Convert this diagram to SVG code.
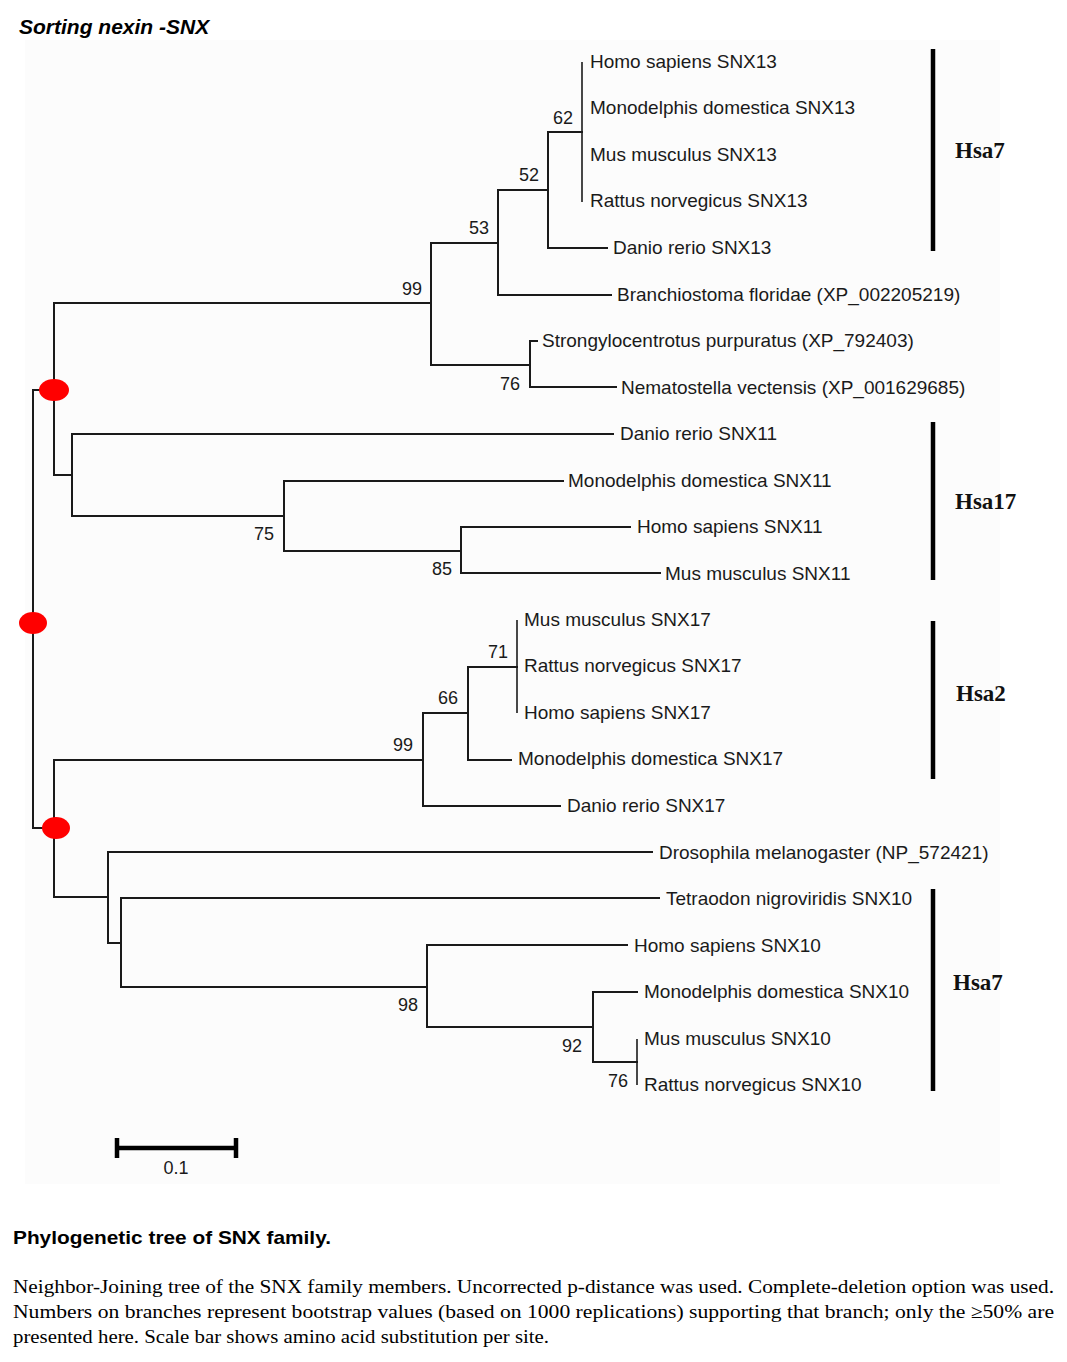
<svg xmlns="http://www.w3.org/2000/svg" width="1067" height="1362" viewBox="0 0 1067 1362">
<style>
.br{fill:none;stroke:#1a1a1a;stroke-width:2;stroke-linecap:square}
.thin{fill:none;stroke:#1a1a1a;stroke-width:1.6}
.lf{font-family:"Liberation Sans",Arial,sans-serif;font-size:19px;fill:#1a1a1a}
.bs{font-family:"Liberation Sans",Arial,sans-serif;font-size:18px;fill:#1a1a1a}
.cl{font-family:"Liberation Serif","Times New Roman",serif;font-size:23px;font-weight:bold;fill:#111}
.bar{stroke:#000;stroke-width:4.5}
.dot{fill:#ff0000}
.cap{font-family:"Liberation Serif","Times New Roman",serif;font-size:19px;fill:#000}
</style>
<rect x="0" y="0" width="1067" height="1362" fill="#ffffff"/>
<rect x="25" y="40" width="975" height="1144" fill="#fcfcfc"/>
<text x="19" y="34" font-family="'Liberation Sans',Arial,sans-serif" font-size="21" font-weight="bold" font-style="italic" fill="#000">Sorting nexin -SNX</text>

<g id="connectors">
<path class="thin" d="M582,62 V202"/>
<path class="br" d="M548,132 H582"/>
<path class="br" d="M548,132 V248 H607"/>
<path class="br" d="M498,190 H548"/>
<path class="br" d="M498,190 V295 H611"/>
<path class="br" d="M431,243 H498"/>
<path class="br" d="M431,243 V365 H530"/>
<path class="br" d="M537,341 H530 V387 H616"/>
<path class="br" d="M54,303 H431"/>
<path class="br" d="M54,303 V475 H72"/>
<path class="br" d="M613,434 H72 V516 H284"/>
<path class="br" d="M563,481 H284 V551 H461"/>
<path class="br" d="M630,527 H461 V573 H660"/>
<path class="br" d="M54,390 H33 V828 H54"/>
<path class="br" d="M423,760 H54 V897 H108"/>
<path class="br" d="M468,713 H423 V806 H560"/>
<path class="br" d="M517,667 H468 V760 H511"/>
<path class="thin" d="M517,620 V713"/>
<path class="br" d="M652,852 H108 V943 H121"/>
<path class="br" d="M659,898 H121 V987 H427"/>
<path class="br" d="M627,945 H427 V1027 H593"/>
<path class="br" d="M637,992 H593 V1062 H637"/>
<path class="thin" d="M637,1039 V1085"/>
</g>

<g id="root-markers">
<ellipse id="node-a" class="dot" cx="54" cy="390" rx="15" ry="11"/>
<ellipse id="node-root" class="dot" cx="33" cy="623" rx="14" ry="11"/>
<ellipse id="node-b" class="dot" cx="56" cy="828" rx="14" ry="11"/>
</g>

<g id="bootstrap">
<text class="bs" x="553" y="124">62</text>
<text class="bs" x="519" y="181">52</text>
<text class="bs" x="469" y="234">53</text>
<text class="bs" x="402" y="295">99</text>
<text class="bs" x="500" y="390">76</text>
<text class="bs" x="254" y="540">75</text>
<text class="bs" x="432" y="575">85</text>
<text class="bs" x="488" y="658">71</text>
<text class="bs" x="438" y="704">66</text>
<text class="bs" x="393" y="751">99</text>
<text class="bs" x="398" y="1011">98</text>
<text class="bs" x="562" y="1052">92</text>
<text class="bs" x="608" y="1087">76</text>
</g>

<g id="leaf-hs-snx13"><text class="lf" x="590" y="68">Homo sapiens SNX13</text></g>
<g id="leaf-md-snx13"><text class="lf" x="590" y="114">Monodelphis domestica SNX13</text></g>
<g id="leaf-mm-snx13"><text class="lf" x="590" y="161">Mus musculus SNX13</text></g>
<g id="leaf-rn-snx13"><text class="lf" x="590" y="207">Rattus norvegicus SNX13</text></g>
<g id="leaf-dr-snx13"><text class="lf" x="613" y="254">Danio rerio SNX13</text></g>
<g id="leaf-bf"><text class="lf" x="617" y="301">Branchiostoma floridae (XP_002205219)</text></g>
<g id="leaf-sp"><text class="lf" x="542" y="347">Strongylocentrotus purpuratus (XP_792403)</text></g>
<g id="leaf-nv"><text class="lf" x="621" y="394">Nematostella vectensis (XP_001629685)</text></g>
<g id="leaf-dr-snx11"><text class="lf" x="620" y="440">Danio rerio SNX11</text></g>
<g id="leaf-md-snx11"><text class="lf" x="568" y="487">Monodelphis domestica SNX11</text></g>
<g id="leaf-hs-snx11"><text class="lf" x="637" y="533">Homo sapiens SNX11</text></g>
<g id="leaf-mm-snx11"><text class="lf" x="665" y="580">Mus musculus SNX11</text></g>
<g id="leaf-mm-snx17"><text class="lf" x="524" y="626">Mus musculus SNX17</text></g>
<g id="leaf-rn-snx17"><text class="lf" x="524" y="672">Rattus norvegicus SNX17</text></g>
<g id="leaf-hs-snx17"><text class="lf" x="524" y="719">Homo sapiens SNX17</text></g>
<g id="leaf-md-snx17"><text class="lf" x="518" y="765">Monodelphis domestica SNX17</text></g>
<g id="leaf-dr-snx17"><text class="lf" x="567" y="812">Danio rerio SNX17</text></g>
<g id="leaf-dm"><text class="lf" x="659" y="859">Drosophila melanogaster (NP_572421)</text></g>
<g id="leaf-tn-snx10"><text class="lf" x="666" y="905">Tetraodon nigroviridis SNX10</text></g>
<g id="leaf-hs-snx10"><text class="lf" x="634" y="952">Homo sapiens SNX10</text></g>
<g id="leaf-md-snx10"><text class="lf" x="644" y="998">Monodelphis domestica SNX10</text></g>
<g id="leaf-mm-snx10"><text class="lf" x="644" y="1045">Mus musculus SNX10</text></g>
<g id="leaf-rn-snx10"><text class="lf" x="644" y="1091">Rattus norvegicus SNX10</text></g>

<g id="clade-hsa7-top"><line class="bar" x1="933" y1="49" x2="933" y2="251"/><text class="cl" x="955" y="158">Hsa7</text></g>
<g id="clade-hsa17"><line class="bar" x1="933" y1="422" x2="933" y2="580"/><text class="cl" x="955" y="509">Hsa17</text></g>
<g id="clade-hsa2"><line class="bar" x1="933" y1="621" x2="933" y2="779"/><text class="cl" x="956" y="701">Hsa2</text></g>
<g id="clade-hsa7-bottom"><line class="bar" x1="933" y1="889" x2="933" y2="1091"/><text class="cl" x="953" y="990">Hsa7</text></g>

<g id="scale-bar">
<path d="M117,1148 H236 M117,1138 V1158 M236,1138 V1158" stroke="#000" stroke-width="4.5" fill="none"/>
<text class="bs" x="176" y="1174" text-anchor="middle">0.1</text>
</g>

<g id="caption">
<text x="13" y="1244" font-family="'Liberation Sans',Arial,sans-serif" font-size="19" font-weight="bold" fill="#000" textLength="318" lengthAdjust="spacingAndGlyphs">Phylogenetic tree of SNX family.</text>
<text class="cap" x="13" y="1293" textLength="1041" lengthAdjust="spacingAndGlyphs">Neighbor-Joining tree of the SNX family members. Uncorrected p-distance was used. Complete-deletion option was used.</text>
<text class="cap" x="13" y="1318" textLength="1041" lengthAdjust="spacingAndGlyphs">Numbers on branches represent bootstrap values (based on 1000 replications) supporting that branch; only the  ≥50% are</text>
<text class="cap" x="13" y="1343" textLength="536" lengthAdjust="spacingAndGlyphs">presented here. Scale bar shows amino acid substitution per site.</text>
</g>
</svg>
